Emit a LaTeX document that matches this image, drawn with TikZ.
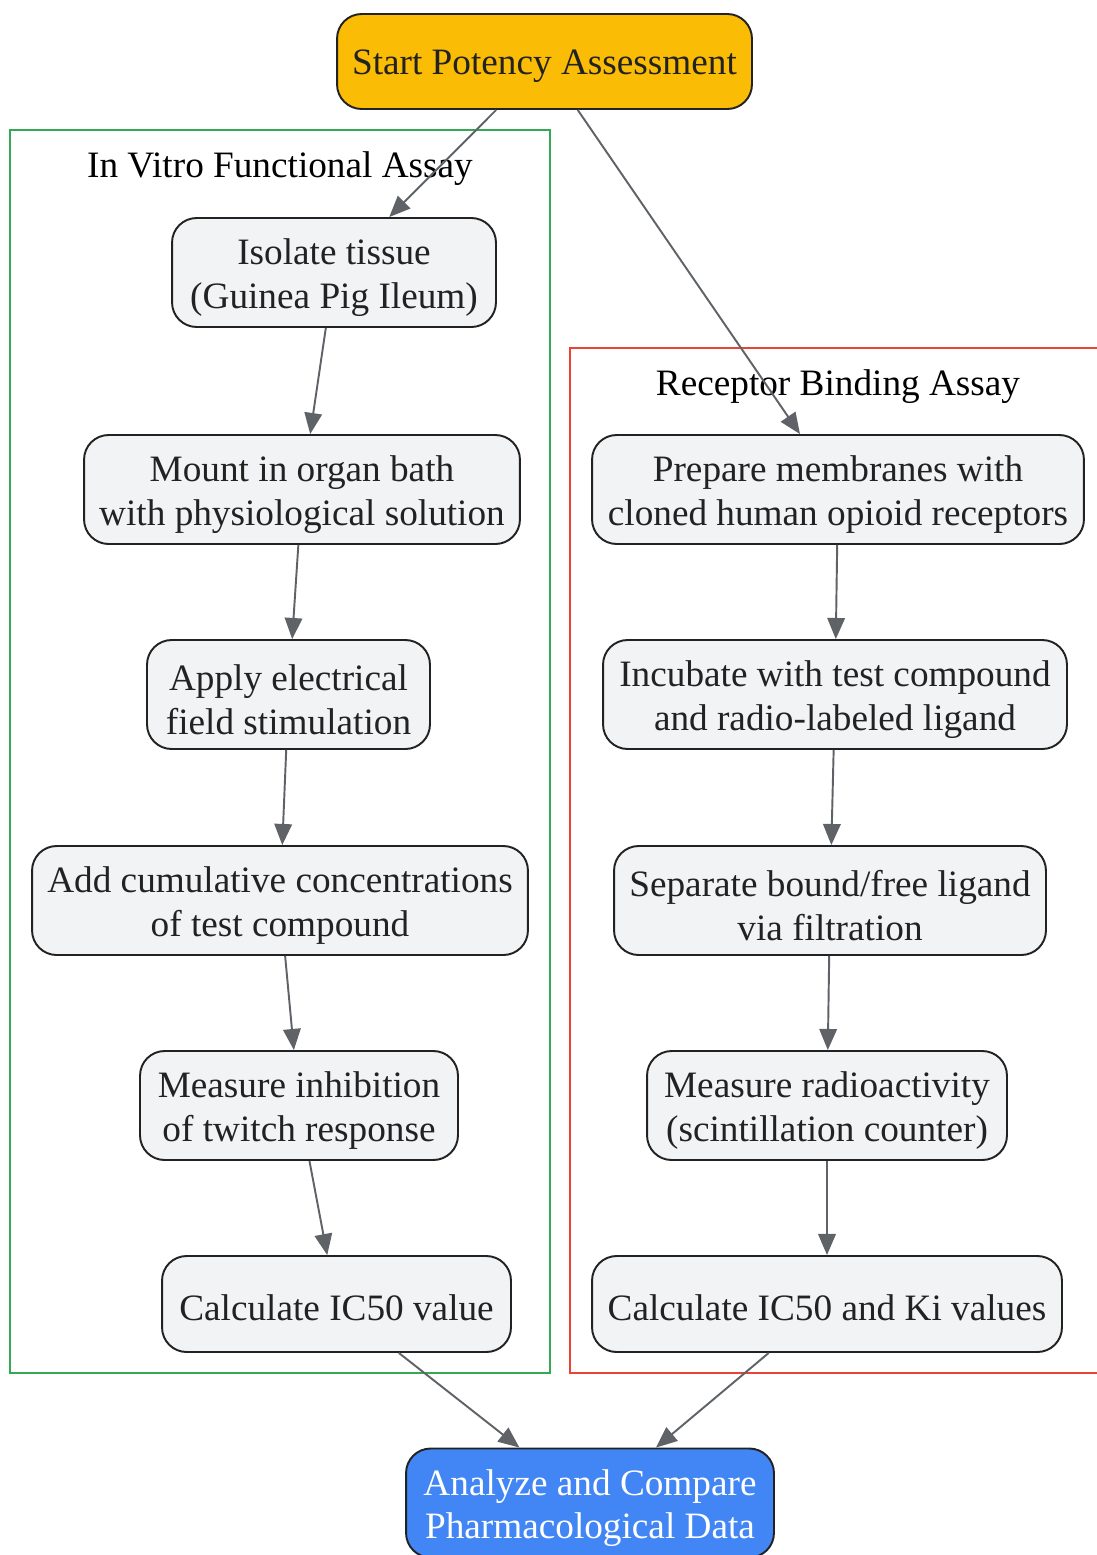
\documentclass[tikz,border=0pt]{standalone}
\usepackage{fontspec}
\setmainfont{Liberation Serif}
\usetikzlibrary{arrows.meta}
\definecolor{stepfill}{HTML}{F1F3F4}
\definecolor{startfill}{HTML}{FBBC05}
\definecolor{endfill}{HTML}{4285F4}
\definecolor{greenbox}{HTML}{34A853}
\definecolor{redbox}{HTML}{EA4335}
\definecolor{edgegray}{HTML}{5F6368}
\definecolor{bordergray}{HTML}{222222}
\tikzset{
  stepbox/.style={draw=bordergray, line width=1.1pt, fill=stepfill, rounded corners=14pt,
    align=center, inner sep=0pt, minimum height=2.18cm, text=bordergray,
    font=\fontsize{21.2pt}{25pt}\selectfont,
    execute at begin node={\rule{0pt}{19.5pt}}},
  twoline/.style={execute at begin node={\rule{0pt}{45.5pt}}},
  flow/.style={draw=edgegray, line width=1.1pt, -{Triangle[length=12pt,width=10pt]}},
  cluster/.style={line width=1.1pt},
  clusterlabel/.style={font=\fontsize{21.2pt}{25pt}\selectfont}
}
\begin{document}
\begin{tikzpicture}[x=0.02cm, y=-0.02cm]
    \useasboundingbox (0,0) rectangle (1096,1555);
    % Gruppen
    \draw[cluster, greenbox] (10,130) rectangle (550,1373);
    \draw[cluster, redbox] (570,348) rectangle (1120,1373);
    \node[clusterlabel] (lbl1) at (280,169) {In Vitro Functional Assay};
    \node[clusterlabel] (lbl2) at (838,387) {Receptor Binding Assay};
    % Start und Ende
    \node[stepbox, fill=startfill, minimum width=8.3cm, minimum height=1.9cm] (start) at (544.5,61.5) {Start Potency Assessment};
    \node[stepbox, twoline, fill=endfill, text=white, minimum width=7.36cm] (analyze) at (590,1503) {Analyze and Compare\\Pharmacological Data};
    % linke Spalte
    \node[stepbox, twoline, minimum width=6.48cm] (iso) at (334,272.5) {Isolate tissue\\(Guinea Pig Ileum)};
    \node[stepbox, twoline, minimum width=8.72cm] (mount) at (302,489.5) {Mount in organ bath\\with physiological solution};
    \node[stepbox, twoline, minimum width=5.66cm] (apply) at (288.5,694.5) {Apply electrical\\field stimulation};
    \node[stepbox, twoline, minimum width=9.92cm] (add) at (280,900.5) {Add cumulative concentrations\\of test compound};
    \node[stepbox, twoline, minimum width=6.36cm] (inhib) at (299,1105.5) {Measure inhibition\\of twitch response};
    \node[stepbox, minimum width=6.98cm, minimum height=1.92cm] (calcic) at (336.5,1304) {Calculate IC50 value};
    % rechte Spalte
    \node[stepbox, twoline, minimum width=9.84cm] (prep) at (838,489.5) {Prepare membranes with\\cloned human opioid receptors};
    \node[stepbox, twoline, minimum width=9.28cm] (incub) at (835,694.5) {Incubate with test compound\\and radio-labeled ligand};
    \node[stepbox, twoline, minimum width=8.64cm] (sep) at (830,900.5) {Separate bound/free ligand\\via filtration};
    \node[stepbox, twoline, minimum width=7.2cm] (radio) at (827,1105.5) {Measure radioactivity\\(scintillation counter)};
    \node[stepbox, minimum width=9.4cm, minimum height=1.92cm] (calcki) at (827,1304) {Calculate IC50 and Ki values};
    % Verbindungen
    \draw[flow] (start) -- (iso);
    \draw[flow] (start) -- (prep);
    \draw[flow] (iso) -- (mount);
    \draw[flow] (mount) -- (apply);
    \draw[flow] (apply) -- (add);
    \draw[flow] (add) -- (inhib);
    \draw[flow] (inhib) -- (calcic);
    \draw[flow] (prep) -- (incub);
    \draw[flow] (incub) -- (sep);
    \draw[flow] (sep) -- (radio);
    \draw[flow] (radio) -- (calcki);
    \draw[flow] (calcic) -- (analyze);
    \draw[flow] (calcki) -- (analyze);
\end{tikzpicture}
\end{document}
